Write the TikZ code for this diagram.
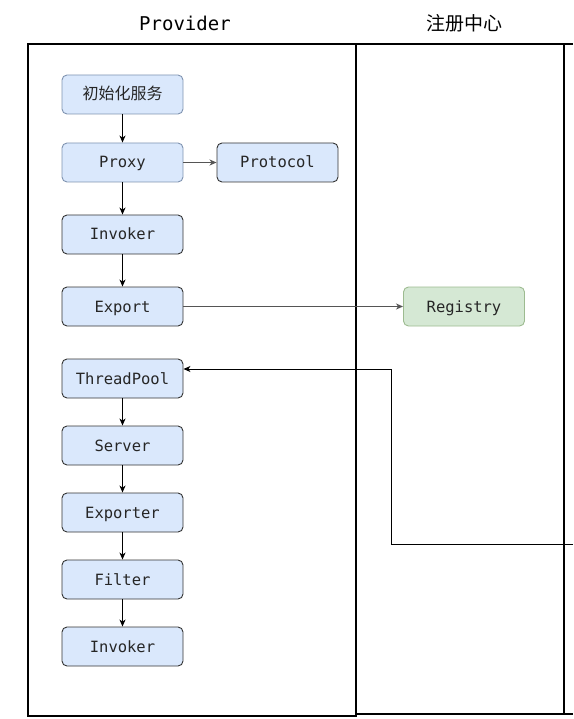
\documentclass[tikz,border=0pt]{standalone}
\usepackage{fontspec}
\setmonofont{DejaVu Sans Mono}
\newfontfamily\cjk{Noto Sans CJK SC}
\usetikzlibrary{arrows.meta}
\definecolor{bluefill}{HTML}{DAE8FC}
\definecolor{lightborder}{HTML}{7F93B0}
\definecolor{darkborder}{HTML}{333333}
\definecolor{greenfill}{HTML}{D5E8D4}
\definecolor{greenborder}{HTML}{9DBB90}
\definecolor{edgegray}{HTML}{555555}
\tikzset{
  box/.style={draw=darkborder, fill=bluefill, rounded corners=5pt, line width=0.9pt,
    minimum width=121pt, minimum height=39pt, inner sep=0pt,
    text height=12pt, text depth=1pt,
    font=\fontsize{15.5}{17}\selectfont\ttfamily, text=black!85},
  lightbox/.style={box, draw=lightborder},
  greenbox/.style={box, draw=greenborder, fill=greenfill},
  lane/.style={line width=2.2pt, black},
  flow/.style={line width=1pt, black, -{Stealth[length=7pt,width=6pt,inset=2pt]}},
  grayflow/.style={flow, edgegray, line width=1.2pt},
  title/.style={text=black}
}
\begin{document}
\begin{tikzpicture}[x=1pt,y=-1pt]
\useasboundingbox (0,0) rectangle (573,719);
% lanes
\draw[lane] (28,44) rectangle (356,716);
\draw[lane] (356,44) -- (573,44);
\draw[lane] (356,714) -- (573,714);
\draw[lane] (564,44) -- (564,714);
% titles
\node[title, font=\fontsize{19}{21}\selectfont\ttfamily] (t1) at (185,23) {Provider};
\node[title, font=\fontsize{19}{21}\selectfont\cjk] (t2) at (464,23) {注册中心};
% boxes
\node[lightbox, font=\fontsize{16}{18}\selectfont\cjk, text height=12pt, text depth=2pt] (init) at (122.5,94.5) {初始化服务};
\node[lightbox] (proxy) at (122.5,162.5) {Proxy};
\node[box] (protocol) at (277.5,162.5) {Protocol};
\node[box] (invoker1) at (122.5,234.5) {Invoker};
\node[box] (export) at (122.5,306.5) {Export};
\node[greenbox] (registry) at (464,306.5) {Registry};
\node[box] (threadpool) at (122.5,378.5) {ThreadPool};
\node[box] (server) at (122.5,445.5) {Server};
\node[box] (exporter) at (122.5,512.5) {Exporter};
\node[box] (filter) at (122.5,579.5) {Filter};
\node[box] (invoker2) at (122.5,646.5) {Invoker};
% connectors
\draw[flow] (init) -- (proxy);
\draw[grayflow] (proxy) -- (protocol);
\draw[flow] (proxy) -- (invoker1);
\draw[flow] (invoker1) -- (export);
\draw[grayflow] (export) -- (registry);
\draw[flow] (threadpool) -- (server);
\draw[flow] (server) -- (exporter);
\draw[flow] (exporter) -- (filter);
\draw[flow] (filter) -- (invoker2);
\coordinate (src) at (573,544);
\coordinate (tp) at (threadpool.east |- 0,369);
\draw[flow] (src) -- (391,544) -- (391,369) -- (tp);
\end{tikzpicture}
\end{document}
